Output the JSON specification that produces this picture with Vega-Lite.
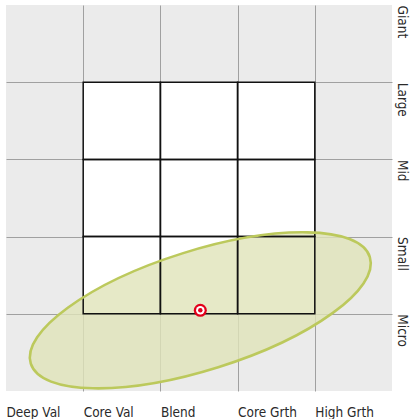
{
  "$schema": "https://vega.github.io/schema/vega-lite/v6.json",
  "width": 386,
  "height": 386,
  "autosize": {"type": "none"},
  "padding": {"left": 6, "top": 5, "right": 20, "bottom": 28},
  "background": "#ffffff",
  "config": {
    "view": {"fill": "#ebebeb", "stroke": null},
    "axis": {
      "domain": false,
      "ticks": false,
      "tickSize": 0,
      "labelFont": "Liberation Sans Narrow, DejaVu Sans Condensed, sans-serif",
      "labelFontSize": 13.5,
      "labelColor": "#2a2a2a",
      "title": null,
      "gridColor": "#a0a0a0",
      "gridWidth": 1,
      "labelFlush": false,
      "labelOverlap": false
    }
  },
  "datasets": {
    "cells": [
      {"x": 1, "x2": 2, "y": 1, "y2": 2},
      {"x": 2, "x2": 3, "y": 1, "y2": 2},
      {"x": 3, "x2": 4, "y": 1, "y2": 2},
      {"x": 1, "x2": 2, "y": 2, "y2": 3},
      {"x": 2, "x2": 3, "y": 2, "y2": 3},
      {"x": 3, "x2": 4, "y": 2, "y2": 3},
      {"x": 1, "x2": 2, "y": 3, "y2": 4},
      {"x": 2, "x2": 3, "y": 3, "y2": 4},
      {"x": 3, "x2": 4, "y": 3, "y2": 4}
    ],
    "fund": [{"x": 2.517, "y": 1.045}]
  },
  "layer": [
    {
      "data": {"name": "cells"},
      "mark": {"type": "rect", "fill": "#ffffff", "stroke": null},
      "encoding": {
        "x": {
          "field": "x", "type": "quantitative",
          "scale": {"domain": [0, 5], "nice": false, "zero": false},
          "axis": {
            "orient": "bottom",
            "values": [0, 1, 2, 3, 4],
            "labelAlign": "left",
            "labelBaseline": "alphabetic",
            "labelPadding": 25,
            "labelExpr": "['Deep Val','Core Val','Blend','Core Grth','High Grth'][datum.value]",
            "grid": true,
            "gridOpacity": {"condition": {"test": "datum.value == 0 || datum.value == 5", "value": 0}, "value": 1}
          }
        },
        "x2": {"field": "x2"},
        "y": {
          "field": "y", "type": "quantitative",
          "scale": {"domain": [0, 5], "nice": false, "zero": false},
          "axis": {
            "orient": "right",
            "values": [1, 2, 3, 4, 5],
            "labelAngle": 90,
            "labelAlign": "left",
            "labelBaseline": "alphabetic",
            "labelPadding": 5,
            "labelExpr": "['','Micro','Small','Mid','Large','Giant'][datum.value]",
            "grid": true,
            "gridOpacity": {"condition": {"test": "datum.value == 0 || datum.value == 5", "value": 0}, "value": 1}
          }
        },
        "y2": {"field": "y2"}
      }
    },
    {
      "data": {"name": "fund"},
      "mark": {
        "type": "point",
        "shape": "M1,0C1,0.1856,0.5523,0.336,0,0.336C-0.5523,0.336,-1,0.1856,-1,0C-1,-0.1856,-0.5523,-0.336,0,-0.336C0.5523,-0.336,1,-0.1856,1,0Z",
        "size": 126309,
        "angle": 342.55,
        "filled": true,
        "fill": "#e0e4b9",
        "fillOpacity": 0.8,
        "opacity": 1,
        "strokeWidth": 0
      },
      "encoding": {
        "x": {"field": "x", "type": "quantitative"},
        "y": {"field": "y", "type": "quantitative"}
      }
    },
    {
      "data": {"name": "cells"},
      "mark": {"type": "rect", "fill": "transparent", "stroke": "#111111", "strokeWidth": 1.5},
      "encoding": {
        "x": {"field": "x", "type": "quantitative"},
        "x2": {"field": "x2"},
        "y": {"field": "y", "type": "quantitative"},
        "y2": {"field": "y2"}
      }
    },
    {
      "data": {"name": "fund"},
      "mark": {
        "type": "point",
        "shape": "M1,0C1,0.1856,0.5523,0.336,0,0.336C-0.5523,0.336,-1,0.1856,-1,0C-1,-0.1856,-0.5523,-0.336,0,-0.336C0.5523,-0.336,1,-0.1856,1,0Z",
        "size": 126309,
        "angle": 342.55,
        "filled": false,
        "stroke": "#bcc95c",
        "strokeWidth": 2.6,
        "opacity": 1
      },
      "encoding": {
        "x": {"field": "x", "type": "quantitative"},
        "y": {"field": "y", "type": "quantitative"}
      }
    },
    {
      "data": {"name": "fund"},
      "mark": {"type": "point", "shape": "circle", "filled": true, "fill": "#e3001b", "size": 169, "opacity": 1, "strokeWidth": 0},
      "encoding": {
        "x": {"field": "x", "type": "quantitative"},
        "y": {"field": "y", "type": "quantitative"}
      }
    },
    {
      "data": {"name": "fund"},
      "mark": {"type": "point", "shape": "circle", "filled": true, "fill": "#ffffff", "size": 72, "opacity": 1, "strokeWidth": 0},
      "encoding": {
        "x": {"field": "x", "type": "quantitative"},
        "y": {"field": "y", "type": "quantitative"}
      }
    },
    {
      "data": {"name": "fund"},
      "mark": {"type": "point", "shape": "circle", "filled": true, "fill": "#e3001b", "size": 20, "opacity": 1, "strokeWidth": 0},
      "encoding": {
        "x": {"field": "x", "type": "quantitative"},
        "y": {"field": "y", "type": "quantitative"}
      }
    }
  ]
}
